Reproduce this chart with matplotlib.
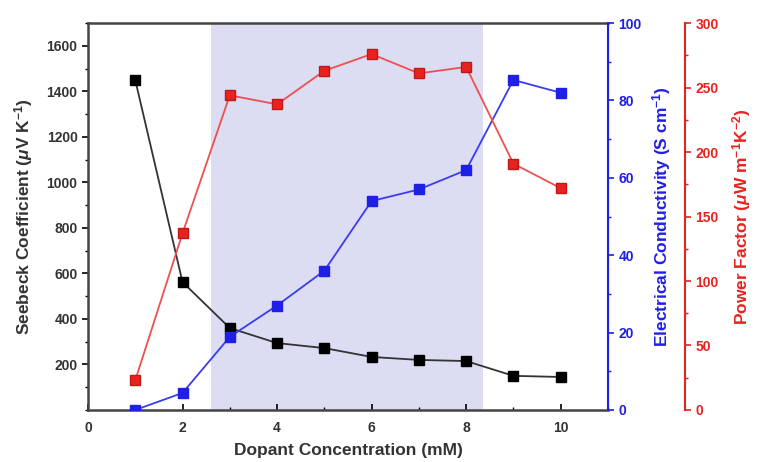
import matplotlib.pyplot as plt
from matplotlib.ticker import MultipleLocator

plt.rcParams['font.family'] = ['Liberation Sans', 'DejaVu Sans']
plt.rcParams['font.weight'] = 'bold'
plt.rcParams['axes.labelweight'] = 'bold'
plt.rcParams['mathtext.fontset'] = 'custom'
plt.rcParams['mathtext.default'] = 'bf'
plt.rcParams['mathtext.bf'] = 'Liberation Sans:bold'
plt.rcParams['mathtext.it'] = 'Liberation Sans:bold:italic'

conc = [1, 2, 3, 4, 5, 6, 7, 8, 9, 10]
seebeck = [1450, 562, 360, 294, 272, 233, 220, 215, 150, 145]
conductivity = [0, 4.4, 18.9, 27, 36, 54, 57, 62, 85.3, 82]
power_factor = [23, 137, 244, 237, 263, 276, 261, 266, 191, 172]
shade_range = (2.6, 8.35)

blue = '#1f1fe6'
red = '#e8231f'

fig = plt.figure(figsize=(7.61, 4.62), dpi=100)
ax = fig.add_axes([0.1156, 0.1126, 0.6833, 0.8374])

ax.axvspan(*shade_range, color='#dcdcf3', lw=0, zorder=0)
ax.plot(conc, seebeck, '-s', color='#333333', mfc='black', mec='black',
        ms=7.5, lw=1.3, zorder=3)

ax.set_xlim(0, 11)
ax.set_ylim(0, 1700)
ax.xaxis.set_major_locator(MultipleLocator(2))
ax.xaxis.set_minor_locator(MultipleLocator(1))
ax.set_yticks([200, 400, 600, 800, 1000, 1200, 1400, 1600])
ax.yaxis.set_minor_locator(MultipleLocator(100))
ax.tick_params(axis='x', direction='in', length=4, width=1.2, labelsize=10,
               labelcolor='#333333', pad=8)
ax.tick_params(axis='x', which='minor', direction='in', length=2.5, width=1)
ax.tick_params(axis='y', direction='out', length=4, width=1.2, labelsize=10,
               labelcolor='#333333')
ax.tick_params(axis='y', which='minor', direction='out', length=2.5, width=1)
ax.set_xlabel('Dopant Concentration (mM)', fontsize=12.5, color='#333333', labelpad=6)
ax.set_ylabel(r'Seebeck Coefficient ($\mathit{\mu}$V K$^{-1}$)', fontsize=12.5,
              color='#333333', labelpad=8)
for s in ['left', 'bottom', 'top']:
    ax.spines[s].set_linewidth(1.8)
    ax.spines[s].set_color('#444444')

ax2 = ax.twinx()
ax2.plot(conc, conductivity, '-s', color='#3b3bf0', mfc=blue, mec=blue,
         ms=7.5, lw=1.3, zorder=3)
ax2.set_ylim(0, 100)
ax2.yaxis.set_major_locator(MultipleLocator(20))
ax2.yaxis.set_minor_locator(MultipleLocator(10))
ax2.tick_params(axis='y', direction='out', length=4, width=1.2, colors=blue,
                labelsize=10)
ax2.tick_params(axis='y', which='minor', length=2.5, width=1, colors=blue)
ax2.set_ylabel(r'Electrical Conductivity (S cm$^{-1}$)', fontsize=12.5,
               color=blue, labelpad=6)
ax2.spines['right'].set_color(blue)
ax2.spines['right'].set_linewidth(1.5)
for s in ['left', 'bottom', 'top']:
    ax2.spines[s].set_visible(False)

ax3 = ax.twinx()
ax3.spines['right'].set_position(('axes', 1.148))
ax3.plot(conc, power_factor, '-s', color='#ee5050', mfc=red, mec='#c01818',
         ms=7.5, lw=1.3, zorder=3)
ax3.set_ylim(0, 300)
ax3.yaxis.set_major_locator(MultipleLocator(50))
ax3.yaxis.set_minor_locator(MultipleLocator(25))
ax3.tick_params(axis='y', direction='out', length=4, width=1.2, colors=red,
                labelsize=10)
ax3.tick_params(axis='y', which='minor', length=2.5, width=1, colors=red)
ax3.set_ylabel(r'Power Factor ($\mathit{\mu}$W m$^{-1}$K$^{-2}$)', fontsize=12.5,
               color=red, labelpad=8)
ax3.spines['right'].set_color(red)
ax3.spines['right'].set_linewidth(1.5)
for s in ['left', 'bottom', 'top']:
    ax3.spines[s].set_visible(False)

fig.savefig('out.png', dpi=100)
